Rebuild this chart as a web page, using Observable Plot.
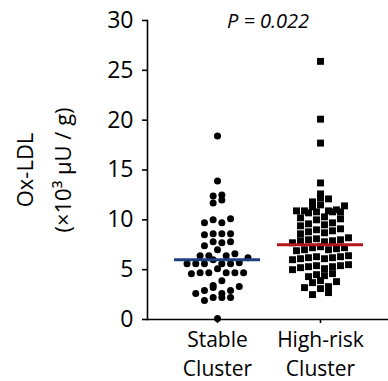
<!DOCTYPE html>
<html>
<head>
<meta charset="utf-8">
<script src="https://cdn.jsdelivr.net/npm/d3@7"></script>
<script src="https://cdn.jsdelivr.net/npm/@observablehq/plot@0.6"></script>
<style>
  html, body { margin: 0; padding: 0; background: #fff; }
  #chart svg { display: block; }
</style>
</head>
<body>
<div id="chart"></div>
<script>
// ---- data ----
const groups = ["Stable Cluster", "High-risk Cluster"];
const groupTickLabels = ["Stable\nCluster", "High-risk\nCluster"];
const stableValues = [18.4, 13.9, 12.5, 12.0, 11.7, 12.4, 10.0, 9.7, 9.7, 10.1,
  8.6, 8.5, 8.6, 8.6, 7.8, 7.8, 7.7, 7.4, 7.0, 6.2, 6.0, 6.4, 6.6, 6.4, 6.4,
  5.7, 5.6, 5.6, 5.6, 5.6, 5.6, 5.1, 4.7, 4.7, 4.7, 4.7, 4.7, 4.6, 3.9,
  2.9, 3.2, 3.3, 2.9, 3.4, 2.6, 2.6, 2.2, 2.2, 2.2, 1.9, 0.1];
const highRiskValues = [25.9, 20.1, 17.7, 13.7,
  12.6, 12.2, 12.1, 11.8,
  11.5, 11.4, 11.3,
  11.0, 10.9, 10.9, 10.8, 10.8, 10.7, 10.9, 10.8,
  10.3, 10.2, 10.1, 10.0,
  9.7, 9.6, 9.5, 9.4,
  9.1, 9.0, 8.9, 8.8, 8.7, 8.6,
  8.2, 8.1, 8.0, 7.9, 7.9, 7.8, 8.0, 7.7,
  7.3, 7.2, 7.1, 7.0, 7.0, 6.9, 7.2,
  6.4, 6.3, 6.2, 6.1, 6.0, 6.2, 6.3, 6.1,
  5.5, 5.4, 5.3, 5.2, 5.1, 5.3, 5.4, 5.0,
  4.6, 4.5, 4.4, 4.3,
  3.9, 3.8, 3.7,
  3.3, 3.2, 3.1,
  2.7, 2.5];
const centerValues = [6.0, 7.5];
const yTicks = [0, 5, 10, 15, 20, 25, 30];
const pValueText = "P = 0.022";
const yLabelLines = ["Ox-LDL", "(×10³ μU / g)"];

// ---- beeswarm layout computed from the values (scatter-dot-plot style rows) ----
function swarm(values, groupIndex, rowSize, spacing) {
  const sorted = values.slice().sort((a, b) => a - b);
  const rows = [];
  let current = [];
  for (const v of sorted) {
    if (current.length && v - current[0] >= rowSize) { rows.push(current); current = []; }
    current.push(v);
  }
  if (current.length) rows.push(current);
  const out = [];
  for (const row of rows) {
    const n = row.length;
    // interleave so the row is not ordered left-to-right by value
    const order = row.map((v, k) => ({v, k})).sort((a, b) => (a.k % 2) - (b.k % 2) || a.k - b.k);
    order.forEach((p, j) => out.push({group: groups[groupIndex], index: groupIndex, value: p.v,
      pos: groupIndex + (j - (n - 1) / 2) * spacing}));
  }
  return out;
}

const stepPx = 103;                   // pixel distance between the two category centres
const stableRows = swarm(stableValues, 0, 0.7, 8.7 / stepPx);
const highRows = swarm(highRiskValues, 1, 0.7, 8.0 / stepPx);
const centerRows = groups.map((g, i) => ({group: g, index: i, value: centerValues[i]}));
const lineHalf = 43 / stepPx;

const font = "'Open Sans', 'Noto Sans', sans-serif";

const chart = Plot.plot({
  width: 388,
  height: 381,
  marginLeft: 147,
  marginRight: 0,
  marginTop: 20,
  marginBottom: 62,
  style: {fontFamily: font, color: "#000", background: "#fff"},
  x: {type: "linear", domain: [-70 / stepPx, 171 / stepPx], axis: null},
  y: {domain: [0, 30], label: null, axis: null},
  color: {domain: groups, range: ["#1f3f7e", "#b3161c"]},
  marks: [
    Plot.frame({anchor: "left", stroke: "#000", strokeWidth: 1.6}),
    Plot.frame({anchor: "bottom", stroke: "#000", strokeWidth: 1.6}),
    Plot.axisY({ticks: yTicks, tickSize: 5, tickPadding: 9, fontSize: 23, label: null, strokeWidth: 1.6}),
    Plot.axisX({ticks: [0, 1], tickSize: 4, tickPadding: 3, fontSize: 21, label: null, strokeWidth: 1.6,
      lineHeight: 1.37, tickFormat: i => groupTickLabels[i]}),
    Plot.dot(stableRows, {x: "pos", y: "value", r: 3.5, fill: "#000"}),
    Plot.dot(highRows, {x: "pos", y: "value", r: 3.9, symbol: "square", fill: "#000"}),
    Plot.ruleY(centerRows, {y: "value", x1: d => d.index - lineHalf, x2: d => d.index + lineHalf,
      stroke: "group", strokeWidth: 3}),
    Plot.text([pValueText], {frameAnchor: "top", fontStyle: "italic", fontSize: 20,
      lineAnchor: "middle", dy: 1, fill: "#000"}),
    Plot.text([yLabelLines.join("\n")], {frameAnchor: "left", rotate: -90, dx: -108,
      lineHeight: 1.75, fontSize: 22, lineAnchor: "middle", textAnchor: "middle", fill: "#000"})
  ]
});
document.getElementById("chart").append(chart);
</script>
</body>
</html>
